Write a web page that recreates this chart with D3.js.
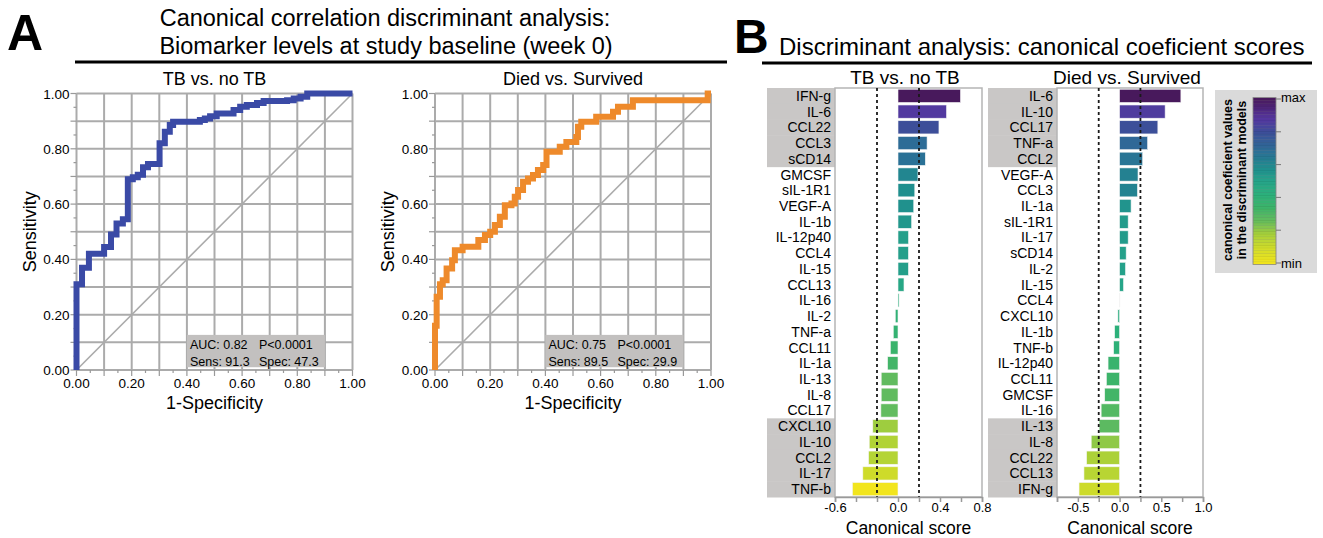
<!DOCTYPE html>
<html>
<head>
<meta charset="utf-8">
<script src="https://cdn.jsdelivr.net/npm/d3@7"></script>
<style>
  body { margin: 0; background: #fff; }
  svg { display: block; font-family: "Liberation Sans", Arial, sans-serif; }
</style>
</head>
<body>
<svg id="fig"></svg>
<script>
var width = 1323;
var height = 538;

// ---- panel A : ROC curves (fpr / tpr corners) ----
var rocTicks = [0, 0.2, 0.4, 0.6, 0.8, 1.0];

var tbFpr = [0, 0, 0.02, 0.045, 0.1, 0.125, 0.145, 0.168, 0.186, 0.204, 0.222, 0.241, 0.259,
  0.301, 0.32, 0.338, 0.35, 0.447, 0.465, 0.484, 0.508, 0.569, 0.593, 0.617, 0.654, 0.678,
  0.763, 0.787, 0.812, 0.836, 1.0];
var tbTpr = [0, 0.31, 0.37, 0.42, 0.445, 0.49, 0.53, 0.545, 0.69, 0.697, 0.706, 0.733, 0.745,
  0.82, 0.862, 0.886, 0.898, 0.904, 0.91, 0.918, 0.928, 0.94, 0.952, 0.958, 0.966, 0.973,
  0.976, 0.982, 0.988, 1.0, 1.0];

var diedFpr = [0, 0, 0.006, 0.018, 0.028, 0.042, 0.062, 0.072, 0.1, 0.157, 0.181, 0.2, 0.217,
  0.235, 0.253, 0.277, 0.289, 0.301, 0.319, 0.337, 0.355, 0.373, 0.392, 0.404, 0.452, 0.476,
  0.512, 0.518, 0.53, 0.584, 0.645, 0.663, 0.717, 0.988, 1.0];
var diedTpr = [0, 0.16, 0.265, 0.31, 0.325, 0.367, 0.397, 0.433, 0.446, 0.47, 0.488, 0.5, 0.524,
  0.554, 0.596, 0.602, 0.627, 0.651, 0.681, 0.693, 0.705, 0.723, 0.741, 0.789, 0.807, 0.825,
  0.843, 0.88, 0.898, 0.916, 0.934, 0.952, 0.976, 1.0, 1.0];

var tbStats = [["AUC: 0.82", "P<0.0001"], ["Sens: 91.3", "Spec: 47.3"]];
var diedStats = [["AUC: 0.75", "P<0.0001"], ["Sens: 89.5", "Spec: 29.9"]];

// ---- panel B : canonical coefficient scores ----
var tbMarkers = ["IFN-g", "IL-6", "CCL22", "CCL3", "sCD14", "GMCSF", "sIL-1R1", "VEGF-A", "IL-1b",
  "IL-12p40", "CCL4", "IL-15", "CCL13", "IL-16", "IL-2", "TNF-a", "CCL11", "IL-1a", "IL-13",
  "IL-8", "CCL17", "CXCL10", "IL-10", "CCL2", "IL-17", "TNF-b"];
var tbScores = [0.595, 0.462, 0.39, 0.277, 0.26, 0.19, 0.16, 0.15, 0.13, 0.10, 0.099, 0.099,
  0.057, 0.01, -0.026, -0.045, -0.073, -0.099, -0.16, -0.16, -0.163, -0.24, -0.274, -0.28,
  -0.335, -0.434];
var tbHighlight = ["IFN-g", "IL-6", "CCL22", "CCL3", "sCD14", "CXCL10", "IL-10", "CCL2", "IL-17", "TNF-b"];

var diedMarkers = ["IL-6", "IL-10", "CCL17", "TNF-a", "CCL2", "VEGF-A", "CCL3", "IL-1a", "sIL-1R1",
  "IL-17", "sCD14", "IL-2", "IL-15", "CCL4", "CXCL10", "IL-1b", "TNF-b", "IL-12p40", "CCL11",
  "GMCSF", "IL-16", "IL-13", "IL-8", "CCL22", "CCL13", "IFN-g"];
var diedScores = [0.735, 0.546, 0.459, 0.336, 0.277, 0.221, 0.214, 0.138, 0.103, 0.103, 0.079,
  0.071, 0.047, 0.004, -0.02, -0.059, -0.071, -0.138, -0.158, -0.178, -0.221, -0.245, -0.34,
  -0.395, -0.427, -0.486];
var diedHighlight = ["IL-6", "IL-10", "CCL17", "TNF-a", "CCL2", "IL-13", "IL-8", "CCL22", "CCL13", "IFN-g"];

var tbAxisTicks = [-0.6, -0.4, -0.2, 0, 0.2, 0.4, 0.6, 0.8];
var tbAxisLabels = [-0.6, 0, 0.4, 0.8];
var diedAxisTicks = [-0.75, -0.5, -0.25, 0, 0.25, 0.5, 0.75, 1.0];
var diedAxisLabels = [-0.5, 0, 0.5, 1.0];

// colour ramp used for the bars and the legend (purple = max, yellow = min)
var rampStops = [0, 0.1, 0.18, 0.26, 0.34, 0.42, 0.5, 0.58, 0.68, 0.8, 0.88, 1.0];
var rampColors = ["#f2e51d", "#cddb2b", "#a5cf3b", "#64bc5e", "#3cb46a", "#2bb07b", "#26a489",
  "#1f8e8e", "#2b6f96", "#3d4e99", "#5536a0", "#48195c"];
var ramp = d3.scaleLinear().domain(rampStops).range(rampColors).clamp(true);

var svg = d3.select("#fig").attr("width", width).attr("height", height);

// ---------- headers ----------
svg.append("text").attr("x", 7).attr("y", 50).attr("font-size", 50).attr("font-weight", "bold").text("A");
svg.append("text").attr("x", 385).attr("y", 26).attr("font-size", 23.5).attr("text-anchor", "middle")
  .text("Canonical correlation discriminant analysis:");
svg.append("text").attr("x", 386).attr("y", 54).attr("font-size", 23.5).attr("text-anchor", "middle")
  .text("Biomarker levels at study baseline (week 0)");
svg.append("line").attr("x1", 75).attr("x2", 727).attr("y1", 62).attr("y2", 62)
  .attr("stroke", "#000").attr("stroke-width", 3);

svg.append("text").attr("x", 734).attr("y", 53).attr("font-size", 48).attr("font-weight", "bold").text("B");
svg.append("text").attr("x", 779).attr("y", 55).attr("font-size", 24)
  .text("Discriminant analysis: canonical coeficient scores");
svg.append("line").attr("x1", 762).attr("x2", 1312).attr("y1", 63).attr("y2", 63)
  .attr("stroke", "#000").attr("stroke-width", 3);

// ---------- ROC panel ----------
function rocPanel(left, title, fpr, tpr, color, stats) {
  var x = d3.scaleLinear().domain([0, 1]).range([left, left + 276]);
  var y = d3.scaleLinear().domain([0, 1]).range([370, 93.5]);
  var g = svg.append("g");
  var gridVals = d3.range(0, 11).map(function(i) { return i / 10; });
  var minorVals = d3.range(0, 21).map(function(i) { return i / 20; });

  g.append("text").attr("x", x(0.5)).attr("y", 85).attr("font-size", 18)
    .attr("text-anchor", "middle").text(title);

  g.selectAll(".gv").data(gridVals).join("line")
    .attr("x1", function(d) { return x(d); }).attr("x2", function(d) { return x(d); })
    .attr("y1", y(0)).attr("y2", y(1))
    .attr("stroke", "#ababab").attr("stroke-width", 2);
  g.selectAll(".gh").data(gridVals).join("line")
    .attr("y1", function(d) { return y(d); }).attr("y2", function(d) { return y(d); })
    .attr("x1", x(0)).attr("x2", x(1))
    .attr("stroke", "#ababab").attr("stroke-width", 2);

  // small outside ticks
  g.selectAll(".tl").data(minorVals).join("line")
    .attr("x1", function(d, i) { return x(0) - (i % 2 ? 3 : 6); }).attr("x2", x(0))
    .attr("y1", function(d) { return y(d); }).attr("y2", function(d) { return y(d); })
    .attr("stroke", "#999").attr("stroke-width", 1.2);
  g.selectAll(".tb").data(minorVals).join("line")
    .attr("y1", y(0)).attr("y2", function(d, i) { return y(0) + (i % 2 ? 3 : 6); })
    .attr("x1", function(d) { return x(d); }).attr("x2", function(d) { return x(d); })
    .attr("stroke", "#999").attr("stroke-width", 1.2);

  g.selectAll(".yl").data(rocTicks).join("text")
    .attr("x", x(0) - 7).attr("y", function(d) { return y(d) + 5; })
    .attr("font-size", 13.5).attr("text-anchor", "end")
    .text(function(d) { return d.toFixed(2); });
  g.selectAll(".xl").data(rocTicks).join("text")
    .attr("x", function(d) { return x(d); }).attr("y", 388)
    .attr("font-size", 13.5).attr("text-anchor", "middle")
    .text(function(d) { return d.toFixed(2); });

  g.append("text").attr("x", x(0.5)).attr("y", 409).attr("font-size", 18)
    .attr("text-anchor", "middle").text("1-Specificity");
  g.append("text").attr("transform", "translate(" + (left - 41) + "," + y(0.5) + ") rotate(-90)")
    .attr("font-size", 18).attr("text-anchor", "middle").text("Sensitivity");

  // chance diagonal
  g.append("line").attr("x1", x(0)).attr("y1", y(0)).attr("x2", x(1)).attr("y2", y(1))
    .attr("stroke", "#ababab").attr("stroke-width", 1.6);

  // stats box
  g.append("rect").attr("x", x(0.4)).attr("y", y(0.127))
    .attr("width", x(0.9) - x(0.4)).attr("height", y(0.01) - y(0.127))
    .attr("fill", "#c2c0bf");
  stats.forEach(function(row, r) {
    g.append("text").attr("x", x(0.4) + 3).attr("y", y(0.127) + 14 + r * 17)
      .attr("font-size", 12.5).text(row[0]);
    g.append("text").attr("x", x(0.4) + 72).attr("y", y(0.127) + 14 + r * 17)
      .attr("font-size", 12.5).text(row[1]);
  });

  var pts = fpr.map(function(f, i) { return [f, tpr[i]]; });
  var line = d3.line()
    .x(function(d) { return x(d[0]); })
    .y(function(d) { return y(d[1]); })
    .curve(d3.curveStepAfter);
  g.append("path").attr("d", line(pts)).attr("fill", "none")
    .attr("stroke", color).attr("stroke-width", 6).attr("stroke-linejoin", "miter");
}

rocPanel(76.5, "TB vs. no TB", tbFpr, tbTpr, "#3a4aa6", tbStats);
rocPanel(435, "Died vs. Survived", diedFpr, diedTpr, "#ee8a2b", diedStats);

// ---------- bar panels ----------
function barPanel(opt) {
  var x = d3.scaleLinear().domain(opt.domain).range([opt.x0, opt.x1]);
  var y = d3.scaleBand().domain(opt.labels).range([88, 497]).paddingInner(0.16).paddingOuter(0.08);
  var colorOf = d3.scaleLinear().domain(opt.colorDomain).range([0, 1]);
  var g = svg.append("g");
  var step = y.step();

  g.append("text").attr("x", opt.titleX).attr("y", 84).attr("font-size", 19)
    .attr("text-anchor", "middle").text(opt.title);

  g.selectAll(".hl").data(opt.highlight).join("rect")
    .attr("x", opt.boxX).attr("width", opt.x0 - opt.boxX)
    .attr("y", function(d) { return y(d) - step * 0.08; })
    .attr("height", step + 0.5)
    .attr("fill", "#c9c7c6");

  g.append("rect").attr("x", opt.x0).attr("y", 88).attr("width", opt.x1 - opt.x0).attr("height", 409)
    .attr("fill", "#fff").attr("stroke", "#b5b5b5").attr("stroke-width", 1.5);

  var rows = opt.labels.map(function(l, i) { return { name: l, v: opt.scores[i] }; });

  g.selectAll(".bar").data(rows).join("rect")
    .attr("x", function(d) { return x(Math.min(0, d.v)); })
    .attr("width", function(d) { return Math.abs(x(d.v) - x(0)); })
    .attr("y", function(d) { return y(d.name); })
    .attr("height", y.bandwidth())
    .attr("fill", function(d) { return ramp(colorOf(d.v)); })
    .attr("stroke", "#f4f4f4").attr("stroke-width", 0.6);

  g.selectAll(".lab").data(rows).join("text")
    .attr("x", opt.x0 - 4).attr("y", function(d) { return y(d.name) + y.bandwidth() / 2 + 5; })
    .attr("font-size", 14).attr("text-anchor", "end")
    .text(function(d) { return d.name; });

  g.selectAll(".dash").data(opt.dashes).join("line")
    .attr("x1", function(d) { return x(d); }).attr("x2", function(d) { return x(d); })
    .attr("y1", 88).attr("y2", 497)
    .attr("stroke", "#1a1a1a").attr("stroke-width", 1.8).attr("stroke-dasharray", "3,3");

  var axis = d3.axisBottom(x).tickValues(opt.ticks).tickSize(5).tickPadding(1)
    .tickFormat(function(d) { return opt.tickLabels.indexOf(d) >= 0 ? d.toFixed(1) : ""; });
  var ax = g.append("g").attr("transform", "translate(0,497)").call(axis);
  ax.select(".domain").attr("stroke", "#9a9a9a").attr("stroke-width", 1.5);
  ax.selectAll(".tick line").attr("stroke", "#9a9a9a").attr("stroke-width", 1.5);
  ax.selectAll(".tick text").attr("font-size", 13).attr("fill", "#000")
    .attr("font-family", "Liberation Sans, Arial, sans-serif");

  g.append("text").attr("x", (opt.x0 + opt.x1) / 2).attr("y", 534).attr("font-size", 17.5)
    .attr("text-anchor", "middle").text("Canonical score");
}

barPanel({
  labels: tbMarkers, scores: tbScores, highlight: tbHighlight,
  domain: [-0.6, 0.8], x0: 835, x1: 982, boxX: 767,
  ticks: tbAxisTicks, tickLabels: tbAxisLabels, dashes: [-0.2, 0.2],
  colorDomain: [-0.434, 0.595], title: "TB vs. no TB", titleX: 905
});
barPanel({
  labels: diedMarkers, scores: diedScores, highlight: diedHighlight,
  domain: [-0.75, 1.0], x0: 1057, x1: 1203, boxX: 988,
  ticks: diedAxisTicks, tickLabels: diedAxisLabels, dashes: [-0.25, 0.25],
  colorDomain: [-0.62, 0.735], title: "Died vs. Survived", titleX: 1127
});

// ---------- colour legend ----------
var legend = svg.append("g");
legend.append("rect").attr("x", 1215).attr("y", 90).attr("width", 102).attr("height", 183).attr("fill", "#dadada");
var bands = d3.range(0, 60).map(function(i) { return i / 59; });
var ly = d3.scaleLinear().domain([1, 0]).range([99, 263]);
var bandH = (263 - 99) / 59;
legend.selectAll(".band").data(bands).join("rect")
  .attr("x", 1253).attr("width", 23)
  .attr("y", function(d) { return ly(d) - bandH / 2; })
  .attr("height", bandH + 0.3)
  .attr("fill", function(d) { return ramp(d); })
  .attr("stroke", "rgba(0,0,0,0.12)").attr("stroke-width", 0.4);
legend.append("rect").attr("x", 1253).attr("y", 99 - bandH / 2).attr("width", 23).attr("height", 164 + bandH)
  .attr("fill", "none").attr("stroke", "#8a8a8a").attr("stroke-width", 0.8);
legend.selectAll(".lt").data([0, 0.2, 0.4, 0.6, 0.8, 1]).join("line")
  .attr("x1", 1276).attr("x2", 1281)
  .attr("y1", function(d) { return ly(d); })
  .attr("y2", function(d) { return ly(d); })
  .attr("stroke", "#777").attr("stroke-width", 1);
legend.append("text").attr("x", 1281).attr("y", 102).attr("font-size", 13).text("max");
legend.append("text").attr("x", 1281).attr("y", 268).attr("font-size", 13).text("min");
legend.append("text").attr("transform", "translate(1232,180) rotate(-90)")
  .attr("font-size", 12.5).attr("font-weight", "bold").attr("text-anchor", "middle")
  .text("canonical coeficient values");
legend.append("text").attr("transform", "translate(1246,180) rotate(-90)")
  .attr("font-size", 12.5).attr("font-weight", "bold").attr("text-anchor", "middle")
  .text("in the discriminant models");
</script>
</body>
</html>
